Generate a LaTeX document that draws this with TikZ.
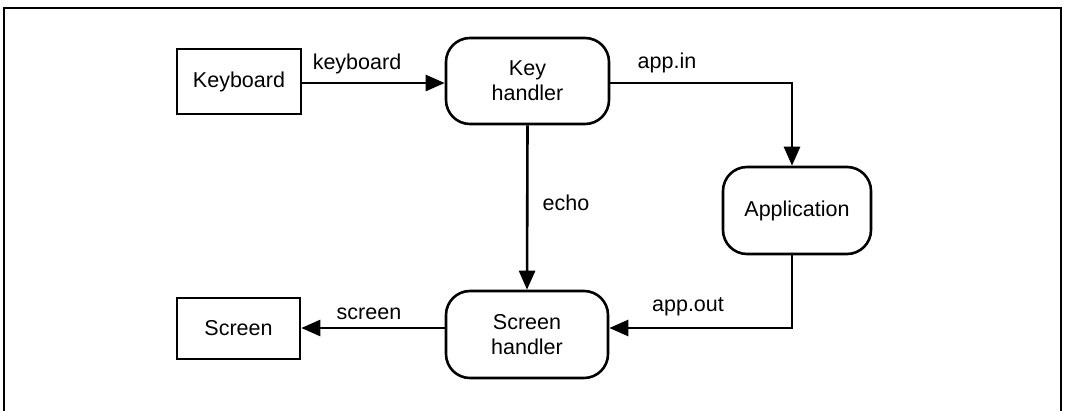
\documentclass[tikz,border=0pt]{standalone}
\usepackage{fontspec}
\setmainfont{Liberation Sans}
\usetikzlibrary{arrows.meta}
\begin{document}
\begin{tikzpicture}[x=1pt,y=-1pt,
  every node/.style={font=\fontsize{21.5}{25}\selectfont},
  term/.style={draw,line width=2.6pt,inner sep=0pt,align=center},
  proc/.style={draw,line width=2.6pt,inner sep=0pt,align=center,rounded corners=24pt,minimum width=163,minimum height=86},
  flow/.style={line width=2.6pt,-{Triangle[length=19pt,width=16pt]}},
  lbl/.style={inner sep=0pt}
]
\useasboundingbox (0,0) rectangle (1078,410);
\draw[line width=1.3pt] (4,412) -- (4,8) -- (1061,8) -- (1061,412);
\node[term,minimum width=124,minimum height=65] (kb) at (239,81.5) {Keyboard};
\node[proc] (kh) at (527.5,81) {Key\\handler};
\node[proc,minimum width=148,minimum height=87] (app) at (797,210.5) {Application};
\node[proc,minimum width=162,minimum height=87] (sh) at (527,334.5) {Screen\\handler};
\node[term,minimum width=123,minimum height=61] (sc) at (238.5,328.5) {Screen};
\coordinate (c1) at (792,83);
\coordinate (c2) at (792,328);
\draw[flow] (kb.east |- 0,83) -- (kh.west |- 0,83);
\draw[flow,rounded corners=0pt] (kh.east |- c1) -- (c1) -- (c1 |- app.north);
\draw[flow] (kh.south) -- (sh.north);
\draw[flow] (c2 |- app.south) -- (c2) -- (sh.east |- c2);
\draw[flow] (sh.west |- 0,328) -- (sc.east |- 0,328);
\node[lbl] (l1) at (357,64) {keyboard};
\node[lbl] (l2) at (667,63) {app.in};
\node[lbl] (l3) at (566,203) {echo};
\node[lbl] (l4) at (688,307) {app.out};
\node[lbl] (l5) at (369,314) {screen};
\end{tikzpicture}
\end{document}
